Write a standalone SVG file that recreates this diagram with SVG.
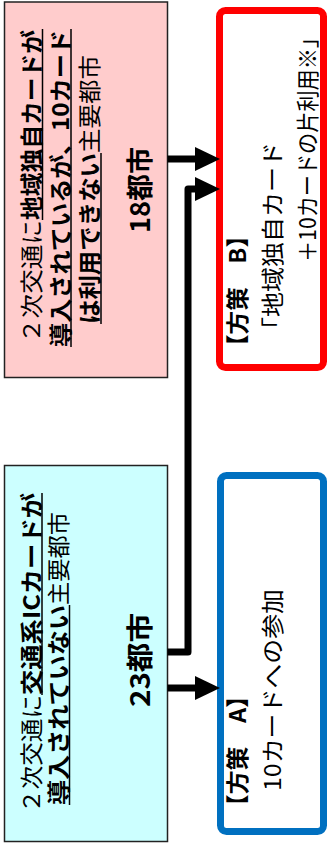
<svg xmlns="http://www.w3.org/2000/svg" width="327" height="843" viewBox="0 0 327 843">
<style>
.t{font-family:"Noto Sans CJK JP","Noto Sans",sans-serif;font-size:23px;fill:#000}
.b{font-weight:bold}
.big{font-size:27px;font-weight:bold}
.ul{stroke:#000;stroke-width:1.5}
.conn{fill:none;stroke:#000;stroke-width:7;stroke-linejoin:round}
</style>
<defs>
<marker id="ah" markerUnits="userSpaceOnUse" markerWidth="25" markerHeight="24" viewBox="0 0 25 24" refX="0" refY="12" orient="auto">
<path d="M0,0 L25,12 L0,24 Z" fill="#000"/>
</marker>
</defs>
<rect width="327" height="843" fill="#fff"/>

<g id="node-18cities">
<rect x="4.5" y="2" width="163" height="375.5" fill="#FFCCCC" stroke="#222" stroke-width="1.5"/>
<g transform="matrix(0,-1,1,0,0,843)">
<text class="t" x="500" y="39.5" textLength="123" lengthAdjust="spacingAndGlyphs">２次交通に</text>
<text class="t b" x="623" y="39.5" textLength="190" lengthAdjust="spacingAndGlyphs">地域独自カードが</text>
<line class="ul" x1="623" y1="42.5" x2="814" y2="42.5"/>
<text class="t b" x="496" y="68.5" textLength="317" lengthAdjust="spacingAndGlyphs">導入されているが、10カード</text>
<line class="ul" x1="496" y1="71" x2="814" y2="71"/>
<text class="t b" x="519" y="98" textLength="171" lengthAdjust="spacingAndGlyphs">は利用できない</text>
<text class="t" x="690" y="98" textLength="98" lengthAdjust="spacingAndGlyphs">主要都市</text>
<line class="ul" x1="519" y1="101" x2="690" y2="101"/>
<text class="t big" x="610" y="150" textLength="86" lengthAdjust="spacingAndGlyphs">18都市</text>
</g>
</g>

<g id="node-23cities">
<rect x="4.5" y="465.5" width="163" height="376" fill="#CCFFFF" stroke="#222" stroke-width="1.5"/>
<g transform="matrix(0,-1,1,0,0,843)">
<text class="t" x="30" y="39.5" textLength="118" lengthAdjust="spacingAndGlyphs">２次交通に</text>
<text class="t b" x="148" y="39.5" textLength="202" lengthAdjust="spacingAndGlyphs">交通系ICカードが</text>
<line class="ul" x1="148" y1="42" x2="350" y2="42"/>
<text class="t b" x="38" y="67" textLength="200" lengthAdjust="spacingAndGlyphs">導入されていない</text>
<text class="t" x="238" y="67" textLength="93" lengthAdjust="spacingAndGlyphs">主要都市</text>
<line class="ul" x1="38" y1="69.5" x2="238" y2="69.5"/>
<text class="t big" x="136" y="150" textLength="94" lengthAdjust="spacingAndGlyphs">23都市</text>
</g>
</g>

<g id="node-planB">
<rect x="219.5" y="10.5" width="104" height="357" rx="6" fill="#fff" stroke="#FF0000" stroke-width="7"/>
<g transform="matrix(0,-1,1,0,0,843)">
<text class="t b" x="485" y="246" textLength="134" lengthAdjust="spacingAndGlyphs">【方策　B】</text>
<text class="t" x="501" y="281" textLength="200" lengthAdjust="spacingAndGlyphs">「地域独自カード</text>
<text class="t" x="581" y="316" textLength="235" lengthAdjust="spacingAndGlyphs">＋10カードの片利用※」</text>
</g>
</g>

<g id="node-planA">
<rect x="220.5" y="475.5" width="103" height="356" rx="6" fill="#fff" stroke="#0070C0" stroke-width="7"/>
<g transform="matrix(0,-1,1,0,0,843)">
<text class="t b" x="25" y="246" textLength="134" lengthAdjust="spacingAndGlyphs">【方策　A】</text>
<text class="t" x="52" y="281" textLength="202" lengthAdjust="spacingAndGlyphs">10カードへの参加</text>
</g>
</g>

<g id="connectors">
<path class="conn" d="M167.5,159 H195" marker-end="url(#ah)"/>
<path class="conn" d="M167.5,652 H188 V189 H195" marker-end="url(#ah)"/>
<path class="conn" d="M167.5,688 H195" marker-end="url(#ah)"/>
</g>
</svg>
